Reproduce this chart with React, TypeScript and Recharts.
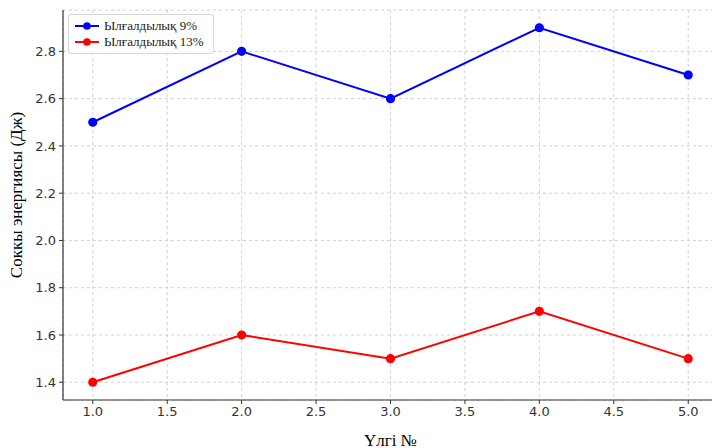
import React from 'react'
import { LineChart, Line, XAxis, YAxis, CartesianGrid } from 'recharts'

const samples = [1, 2, 3, 4, 5]
const moisture9 = [2.5, 2.8, 2.6, 2.9, 2.7]
const moisture13 = [1.4, 1.6, 1.5, 1.7, 1.5]
const xTicks = [1.0, 1.5, 2.0, 2.5, 3.0, 3.5, 4.0, 4.5, 5.0]
const yTicks = [1.4, 1.6, 1.8, 2.0, 2.2, 2.4, 2.6, 2.8]
const seriesNames = ['Ылғалдылық 9%', 'Ылғалдылық 13%']
const seriesColors = ['#0000ff', '#ff0000']

const data = samples.map((s, i) => ({ sample: s, m9: moisture9[i], m13: moisture13[i] }))

const tickStyle = { fontSize: 13, fill: '#333', fontFamily: 'DejaVu Sans' }
const serif = 'Liberation Serif, Times New Roman, serif'

function LegendBox() {
  return (
    <div
      style={{
        position: 'absolute',
        left: 68,
        top: 14,
        border: '1px solid #d6d6d6',
        borderRadius: 3,
        background: 'rgba(255,255,255,0.9)',
        padding: '3px 9px 3px 5px',
        fontFamily: serif,
        fontSize: 13,
        lineHeight: '16px',
        color: '#222',
      }}
    >
      {seriesNames.map((name, i) => (
        <div key={name} style={{ display: 'flex', alignItems: 'center' }}>
          <svg width={26} height={16} style={{ marginRight: 4 }}>
            <line x1={1} y1={8} x2={25} y2={8} stroke={seriesColors[i]} strokeWidth={2} />
            <circle cx={13} cy={8} r={3.8} fill={seriesColors[i]} />
          </svg>
          <span>{name}</span>
        </div>
      ))}
    </div>
  )
}

export default function App() {
  return (
    <div style={{ position: 'absolute', left: 0, top: 0, width: 712, height: 448, overflow: 'hidden', background: '#fff' }}>
      <LineChart width={730} height={448} data={data} margin={{ top: 10, right: 12, left: 0, bottom: 0 }}>
        <CartesianGrid stroke="#d0d0d0" strokeDasharray="3 3" />
        <XAxis
          dataKey="sample"
          type="number"
          domain={[0.8, 5.2]}
          ticks={xTicks}
          tickFormatter={(v) => v.toFixed(1)}
          tick={tickStyle}
          tickSize={4}
          tickMargin={3}
          height={48}
          stroke="#333"
          axisLine={{ stroke: '#333', strokeWidth: 1.2 }}
          label={{ value: 'Үлгі №', position: 'insideBottom', offset: 0, dy: -2, fill: '#000', fontSize: 17, fontFamily: serif }}
        />
        <YAxis
          type="number"
          domain={[1.325, 2.975]}
          ticks={yTicks}
          tickFormatter={(v) => v.toFixed(1)}
          tick={tickStyle}
          tickSize={4}
          tickMargin={3}
          width={63}
          stroke="#333"
          axisLine={{ stroke: '#333', strokeWidth: 1.2 }}
          allowDataOverflow
          label={{ value: 'Соккы энергиясы (Дж)', angle: -90, position: 'insideLeft', offset: 16, dy: -10, style: { textAnchor: 'middle' }, fill: '#000', fontSize: 17, fontFamily: serif }}
        />
        <Line
          name={seriesNames[0]}
          dataKey="m9"
          stroke={seriesColors[0]}
          strokeWidth={2}
          dot={{ r: 3.6, fill: seriesColors[0], stroke: seriesColors[0] }}
          isAnimationActive={false}
        />
        <Line
          name={seriesNames[1]}
          dataKey="m13"
          stroke={seriesColors[1]}
          strokeWidth={2}
          dot={{ r: 3.6, fill: seriesColors[1], stroke: seriesColors[1] }}
          isAnimationActive={false}
        />
      </LineChart>
      <LegendBox />
    </div>
  )
}
